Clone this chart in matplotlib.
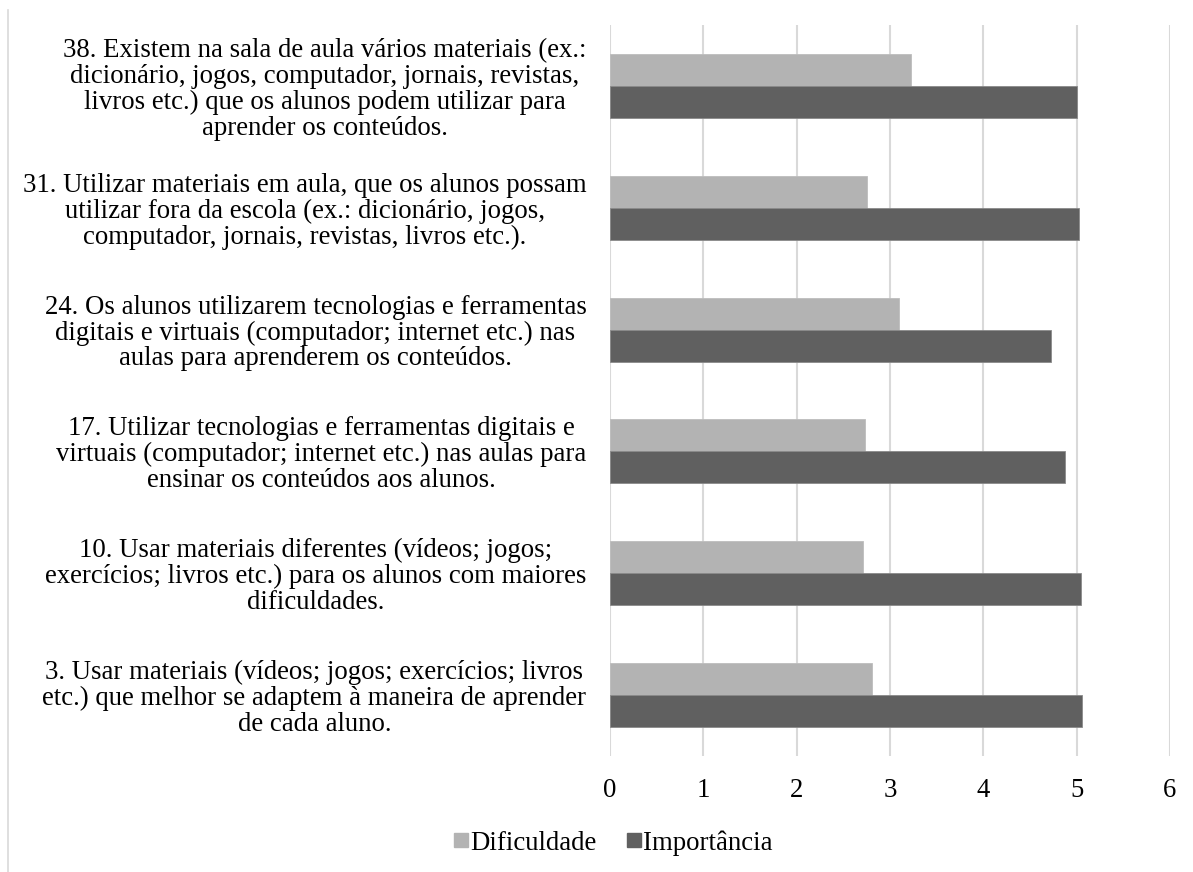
import matplotlib
matplotlib.use("Agg")
import matplotlib.pyplot as plt
import numpy as np
from matplotlib.lines import Line2D

categories = [
    "3. Usar materiais (vídeos; jogos; exercícios; livros\netc.) que melhor se adaptem à maneira de aprender\nde cada aluno.",
    "10. Usar materiais diferentes (vídeos; jogos;\nexercícios; livros etc.) para os alunos com maiores\ndificuldades.",
    "17. Utilizar tecnologias e ferramentas digitais e\nvirtuais (computador; internet etc.) nas aulas para\nensinar os conteúdos aos alunos.",
    "24. Os alunos utilizarem tecnologias e ferramentas\ndigitais e virtuais (computador; internet etc.) nas\naulas para aprenderem os conteúdos.",
    "31. Utilizar materiais em aula, que os alunos possam\nutilizar fora da escola (ex.: dicionário, jogos,\ncomputador, jornais, revistas, livros etc.).",
    "38. Existem na sala de aula vários materiais (ex.:\ndicionário, jogos, computador, jornais, revistas,\nlivros etc.) que os alunos podem utilizar para\naprender os conteúdos.",
]
dificuldade = [2.81, 2.71, 2.73, 3.10, 2.75, 3.23]
importancia = [5.06, 5.05, 4.88, 4.72, 5.03, 5.00]
series_names = ["Dificuldade", "Importância"]
x_ticks = [0, 1, 2, 3, 4, 5, 6]

plt.rcParams['font.family'] = ['Liberation Serif', 'DejaVu Serif']
FS = 19.3

fig = plt.figure(figsize=(11.93, 8.72), dpi=100)
ax = fig.add_axes([610/1193, 1-756/872, (1170-610)/1193, (756-25)/872])

y = np.arange(len(categories))
h = 0.262
c_dif = '#B3B3B3'
c_imp = '#606060'
ax.barh(y + h/2, dificuldade, height=h, color=c_dif, edgecolor='#BDBDBD', linewidth=0.6, zorder=3, label=series_names[0])
ax.barh(y - h/2, importancia, height=h, color=c_imp, edgecolor='#8A8A8A', linewidth=0.6, zorder=3, label=series_names[1])

ax.set_xlim(0, 6)
ax.set_ylim(-0.5, len(categories) - 0.5)
ax.set_xticks(x_ticks)
ax.set_xticklabels([str(t) for t in x_ticks], fontsize=FS)
ax.set_yticks(y)
ax.set_yticklabels(categories, fontsize=FS, multialignment='center', linespacing=1.045)
ax.tick_params(axis='both', length=0)
ax.tick_params(axis='y', pad=17)
ax.tick_params(axis='x', pad=16)
ax.grid(axis='x', color='#D9D9D9', linewidth=1.5, zorder=0)
for s in ax.spines.values():
    s.set_visible(False)

handles = [Line2D([0], [0], marker='s', linestyle='none', markersize=10, markerfacecolor=c_dif, markeredgecolor=c_dif),
           Line2D([0], [0], marker='s', linestyle='none', markersize=10, markerfacecolor=c_imp, markeredgecolor=c_imp)]
fig.legend(handles, series_names, loc='center', bbox_to_anchor=(612/1193, 1-843/872), ncol=2,
           frameon=False, fontsize=FS, handletextpad=0.0, columnspacing=1.05, handlelength=0.7)

fig.add_artist(Line2D([8/1193, 8/1193], [0, 1-10/872], color='#D9D9D9', linewidth=1.2, transform=fig.transFigure))

fig.savefig('out.png', dpi=100)
